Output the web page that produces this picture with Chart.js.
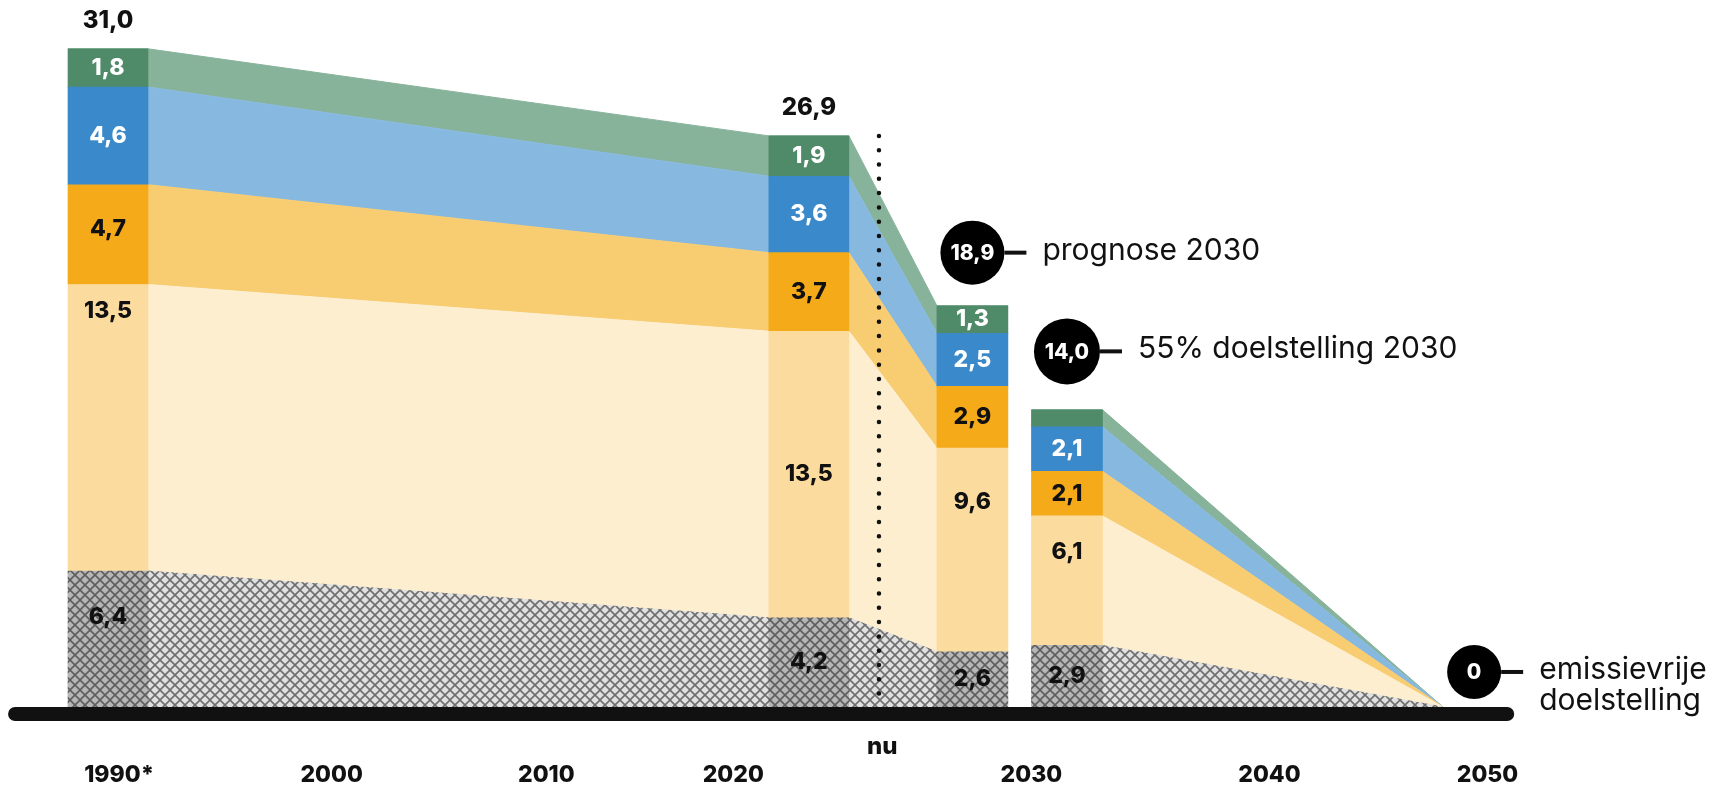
<!DOCTYPE html>
<html>
<head>
<meta charset="utf-8">
<script src="https://cdn.jsdelivr.net/npm/chart.js@4.4.1/dist/chart.umd.min.js"></script>
<style>
  html, body { margin: 0; padding: 0; background: #fff; }
  #wrap { width: 1720px; height: 795px; position: relative; }
</style>
</head>
<body>
<div id="wrap"><canvas id="emissionChart"></canvas></div>
<script>
// emissions per block (Mton), stacked bottom to top
const barLabels = ['1990*', '2022', 'prognose 2030', '55% doelstelling 2030'];
const hatched = [6.4, 4.2, 2.6, 2.9];
const lightYellow = [13.5, 13.5, 9.6, 6.1];
const orange = [4.7, 3.7, 2.9, 2.1];
const blue = [4.6, 3.6, 2.5, 2.1];
const green = [1.8, 1.9, 1.3, 0.8];
const totals = [31.0, 26.9, 18.9, 14.0];
const target2050 = 0;

const yearTicks = ['1990*', '2000', '2010', '2020', '2030', '2040', '2050'];
const notes = ['prognose 2030', '55% doelstelling 2030', ['emissievrije', 'doelstelling']];

// layout on the time axis (years)
const barX = [1990, 2021.5, 2028.85, 2033.1];
const barW = [3.6, 3.6, 3.19, 3.19];
const barPx = [80, 80, 71, 71];
const endX = 2050;
const nowX = 2024.65;
const tickX = [1990.5, 2000.05, 2009.7, 2018.1, 2031.5, 2042.2, 2052];
// label offset from segment top in px (null = centred)
const labelDy = [
  [46, 27, 44, null, null],
  [null, null, null, null, null],
  [null, 54, null, null, null],
  [null, 36, null, null, null]
];

const fmt = v => v.toFixed(1).replace('.', ',');
const FONT = 'Inter, "Noto Sans", sans-serif';

function makeHatch(bg, line) {
  const c = document.createElement('canvas');
  c.width = 10; c.height = 10;
  const g = c.getContext('2d');
  g.fillStyle = bg;
  g.fillRect(0, 0, 10, 10);
  g.strokeStyle = line;
  g.lineWidth = 1.6;
  g.beginPath();
  g.moveTo(0, 0); g.lineTo(10, 10);
  g.moveTo(10, 0); g.lineTo(0, 10);
  g.stroke();
  return g.createPattern(c, 'repeat');
}

const series = [
  { values: hatched, bar: makeHatch('#b6b6b6', '#5e5e5e'), band: makeHatch('#e0e0e0', '#6e6e6e'), text: '#111' },
  { values: lightYellow, bar: '#fbdc9e', band: '#fdeed0', text: '#111' },
  { values: orange, bar: '#f5aa1a', band: '#f8cc70', text: '#111' },
  { values: blue, bar: '#3a89ca', band: '#87b9e0', text: '#fff' },
  { values: green, bar: '#4f8b69', band: '#88b39b', text: '#fff' }
];

function bandPoints(values, idxs, toEnd) {
  const pts = [];
  idxs.forEach(i => {
    pts.push({ x: barX[i] - barW[i] / 2, y: values[i] });
    pts.push({ x: barX[i] + barW[i] / 2, y: values[i] });
  });
  if (toEnd) pts.push({ x: endX, y: target2050 });
  return pts;
}

const datasets = [];
// connecting bands: 1990 -> 2022 -> prognose, and doelstelling -> 2050
[['A', [0, 1, 2], false], ['B', [3], true]].forEach(([stack, idxs, toEnd]) => {
  series.forEach(s => {
    datasets.push({
      type: 'line',
      stack: stack,
      order: 2,
      data: bandPoints(s.values, idxs, toEnd),
      backgroundColor: s.band,
      borderColor: s.band,
      borderWidth: 1,
      pointRadius: 0,
      tension: 0,
      fill: 'stack'
    });
  });
});
// the bars themselves
[[0, 1], [2, 3]].forEach(idxs => {
  series.forEach(s => {
    datasets.push({
      type: 'bar',
      stack: 'bars',
      order: 1,
      data: idxs.map(i => ({ x: barX[i], y: s.values[i] })),
      backgroundColor: s.bar,
      borderWidth: 0,
      barThickness: barPx[idxs[0]]
    });
  });
});

const overlay = {
  id: 'overlay',
  afterDatasetsDraw(chart) {
    const { ctx, scales: { x, y } } = chart;
    const base = y.getPixelForValue(0);
    ctx.save();

    // segment labels
    ctx.textAlign = 'center';
    ctx.textBaseline = 'middle';
    ctx.font = `800 23px ${FONT}`;
    barX.forEach((bx, i) => {
      const px = x.getPixelForValue(bx);
      let cum = 0;
      series.forEach((s, j) => {
        const v = s.values[i];
        const yBot = y.getPixelForValue(cum);
        cum += v;
        const yTop = y.getPixelForValue(cum);
        if (v < 1) return;
        const dy = labelDy[i][j];
        const cy = dy === null ? (yTop + yBot) / 2 : yTop + dy;
        ctx.fillStyle = s.text;
        ctx.fillText(fmt(v), px, cy);
      });
    });

    // totals above the measured bars
    ctx.fillStyle = '#111';
    ctx.font = `800 24px ${FONT}`;
    [0, 1].forEach(i => {
      ctx.fillText(fmt(totals[i]), x.getPixelForValue(barX[i]), y.getPixelForValue(totals[i]) - 28);
    });

    // "nu" dotted line
    const nx = x.getPixelForValue(nowX);
    ctx.strokeStyle = '#111';
    ctx.lineWidth = 4.5;
    ctx.lineCap = 'round';
    ctx.setLineDash([0, 14.3]);
    ctx.beginPath();
    ctx.moveTo(nx, y.getPixelForValue(totals[1]));
    ctx.lineTo(nx, base - 4);
    ctx.stroke();
    ctx.setLineDash([]);
    ctx.font = `800 24px ${FONT}`;
    ctx.fillText('nu', x.getPixelForValue(nowX + 0.15), base + 40);

    // base line
    ctx.lineWidth = 14;
    ctx.lineCap = 'round';
    ctx.beginPath();
    ctx.moveTo(x.getPixelForValue(1985.15) + 15, base + 7);
    ctx.lineTo(x.getPixelForValue(2053.2) - 7, base + 7);
    ctx.stroke();

    // markers with notes
    const markers = [
      { cx: x.getPixelForValue(barX[2]), cy: y.getPixelForValue(totals[2] + 2.5), r: 32, label: fmt(totals[2]), note: [notes[0]] },
      { cx: x.getPixelForValue(barX[3]), cy: y.getPixelForValue(totals[3] + 2.75), r: 33, label: fmt(totals[3]), note: [notes[1]] },
      { cx: x.getPixelForValue(2051.4), cy: y.getPixelForValue(1.65), r: 27, label: String(target2050), note: notes[2] }
    ];
    markers.forEach(m => {
      ctx.fillStyle = '#000';
      ctx.beginPath();
      ctx.arc(m.cx, m.cy, m.r, 0, Math.PI * 2);
      ctx.fill();
      ctx.lineWidth = 4;
      ctx.lineCap = 'butt';
      ctx.beginPath();
      ctx.moveTo(m.cx + m.r, m.cy);
      ctx.lineTo(m.cx + m.r + 22, m.cy);
      ctx.stroke();
      ctx.fillStyle = '#fff';
      ctx.textAlign = 'center';
      ctx.font = `800 21px ${FONT}`;
      ctx.fillText(m.label, m.cx, m.cy + 1);
      ctx.fillStyle = '#111';
      ctx.textAlign = 'left';
      ctx.font = `400 30px ${FONT}`;
      m.note.forEach((line, k) => {
        ctx.fillText(line, m.cx + m.r + 38, m.cy - 2 + k * 31);
      });
    });
    ctx.restore();
  }
};

new Chart(document.getElementById('emissionChart'), {
  type: 'line',
  data: { datasets },
  options: {
    responsive: true,
    maintainAspectRatio: false,
    animation: false,
    layout: { padding: 0 },
    plugins: { legend: { display: false }, tooltip: { enabled: false } },
    scales: {
      x: {
        type: 'linear',
        min: 1985.146,
        max: 2062.45,
        offset: false,
        grid: { display: false, drawTicks: false },
        border: { display: false },
        afterBuildTicks: axis => { axis.ticks = tickX.map(v => ({ value: v })); },
        afterFit: axis => { axis.height = 88; },
        ticks: {
          autoSkip: false,
          maxRotation: 0,
          padding: 54,
          color: '#111',
          font: { family: FONT, size: 23, weight: '800' },
          callback: (v, i) => yearTicks[i]
        }
      },
      y: {
        display: false,
        stacked: true,
        min: 0,
        max: 33.3
      }
    }
  },
  plugins: [overlay]
});
</script>
</body>
</html>
